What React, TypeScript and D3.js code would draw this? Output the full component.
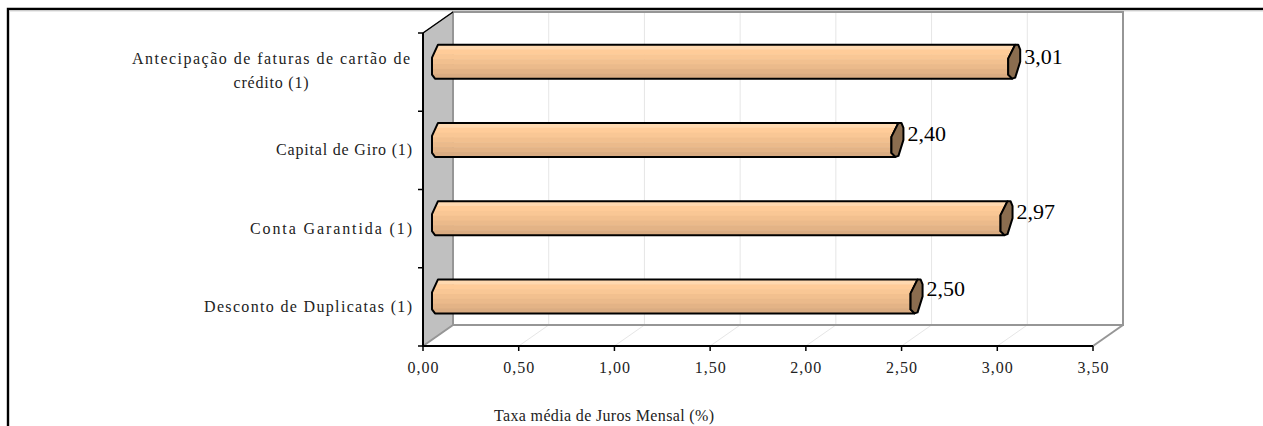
import React from "react";
import * as d3 from "d3";

const categories = ["Antecipação de faturas de cartão de|crédito (1)", "Capital de Giro (1)", "Conta Garantida (1)", "Desconto de Duplicatas (1)"];
const values = [3.01, 2.4, 2.97, 2.5];
const valueLabels = ["3,01", "2,40", "2,97", "2,50"];
const ticks = [0, 0.5, 1, 1.5, 2, 2.5, 3, 3.5];
const tickLabels = ["0,00", "0,50", "1,00", "1,50", "2,00", "2,50", "3,00", "3,50"];
const axisTitle = "Taxa média de Juros Mensal (%)";
const bandColors = ["#FFD9B0", "#FFCC99", "#F9C795", "#F2C08F", "#EBBA8B", "#E3B386", "#DAAC82"];

const lineLengths: Record<string, number> = {
  "Antecipação de faturas de cartão de": 278,
  "crédito (1)": 75,
  "Capital de Giro (1)": 136,
  "Conta Garantida (1)": 162,
  "Desconto de Duplicatas (1)": 208,
};

const x = d3.scaleLinear().domain([0, 3.5]).range([423, 1093]);
const y = d3.scaleBand().domain(categories).range([33, 346]);
const labelY = d3.scaleLinear().domain([0, 3]).range([64, 296]);
const dx = 30, dy = -21;
const serif = "'Liberation Serif', 'Times New Roman', serif";
const line = d3.line().curve(d3.curveLinearClosed);

export default function App() {
  const top = y.range()[0], bot = y.range()[1];
  const x0 = x(0), x1 = x(3.5);
  return (
    <svg width={1263} height={426} style={{ position: "absolute", left: 0, top: 0, background: "#fff" }} fontFamily={serif}>
      <path d="M8,426V9H1263" fill="none" stroke="#000" strokeWidth={2.4} />
      <path d="M9,11H1263" fill="none" stroke="#D8D8D8" strokeWidth={1} />
      <path d={line([[x0, top], [x0 + dx, top + dy], [x0 + dx, bot + dy], [x0, bot]])!} fill="#C0C0C0" stroke="#808080" strokeWidth={1} />
      {ticks.slice(1, -1).map((t) => (
        <g key={t} stroke="#E6E6E6" fill="none">
          <path d={`M${x(t)},${bot}L${x(t) + dx},${bot + dy}V${top + dy}`} />
        </g>
      ))}
      <path d={`M${x0 + dx},${bot + dy}V${top + dy}H${x1 + dx}V${bot + dy}H${x0 + dx}`} fill="none" stroke="#969696" strokeWidth={2} />
      <path d={`M${x0},${bot}L${x0 + dx},${bot + dy}`} stroke="#969696" strokeWidth={2} />
      <path d={`M${x1},${bot}L${x1 + dx},${bot + dy}`} stroke="#969696" strokeWidth={2} />
      <path d={`M${x0},${top}L${x0 + dx},${top + dy}`} stroke="#000" strokeWidth={1.5} />
      {categories.map((c, i) => {
        const b = y.bandwidth();
        const cy = y(c)! + b / 2 + dy / 2;
        const h = 34;
        const t = cy - h / 2;
        const sx = x0 + dx / 2;
        const xe = x(values[i]) + dx / 2;
        const bh = h / bandColors.length;
        const outline = `M${sx},${t}H${xe + 1}L${xe - 6},${t + 14}V${t + 30}L${xe - 2},${t + 34}H${sx - 3}L${sx - 6},${t + 30}L${sx - 6},${t + 13}L${sx},${t}Z`;
        const cap = `M${xe + 1},${t}L${xe - 6},${t + 14}V${t + 30}L${xe - 2},${t + 34}L${xe + 1},${t + 33}L${xe + 6},${t + 17}V${t + 5}L${xe + 4},${t}Z`;
        const clipId = `c${i}`;
        const lines = c.split("|");
        return (
          <g key={c}>
            <clipPath id={clipId}><path d={outline} /></clipPath>
            <g clipPath={`url(#${clipId})`}>
              {bandColors.map((col, k) => (
                <rect key={k} x={sx - 16} y={t + k * bh} width={xe - sx + 24} height={bh + 0.5} fill={col} />
              ))}
            </g>
            <path d={outline} fill="none" stroke="#000" strokeWidth={2} strokeLinejoin="round" />
            <path d={cap} fill="#8B6D4F" stroke="#000" strokeWidth={2} strokeLinejoin="round" />
            <text x={xe + 10} y={labelY(i)} fontSize={22} fill="#000">{valueLabels[i]}</text>
            <path d={`M${x0 - 5},${y(c)}H${x0}`} stroke="#000" strokeWidth={1.5} />
            {lines.map((l, k) => {
              const multi = lines.length > 1;
              return (
                <text
                  key={k}
                  x={multi ? 271 : 412}
                  y={multi ? 64 + k * 24 : y(c)! + b / 2 + 5}
                  textAnchor={multi ? "middle" : "end"}
                  fontSize={16}
                  textLength={lineLengths[l]}
                  lengthAdjust="spacing"
                  fill="#222"
                >{l}</text>
              );
            })}
          </g>
        );
      })}
      <path d={`M${x0},${top}V${bot}H${x1}`} fill="none" stroke="#000" strokeWidth={2} />
      <path d={`M${x0 - 5},${bot}H${x0}`} stroke="#000" strokeWidth={1.5} />
      {ticks.map((t, i) => (
        <g key={t}>
          <path d={`M${x(t)},${bot}v5`} stroke="#000" strokeWidth={1.5} />
          <text x={x(t)} y={373} textAnchor="middle" fontSize={16} textLength={31} lengthAdjust="spacing" fill="#222">{tickLabels[i]}</text>
        </g>
      ))}
      <text x={604} y={421} textAnchor="middle" fontSize={16} textLength={220} lengthAdjust="spacing" fill="#222">{axisTitle}</text>
    </svg>
  );
}
